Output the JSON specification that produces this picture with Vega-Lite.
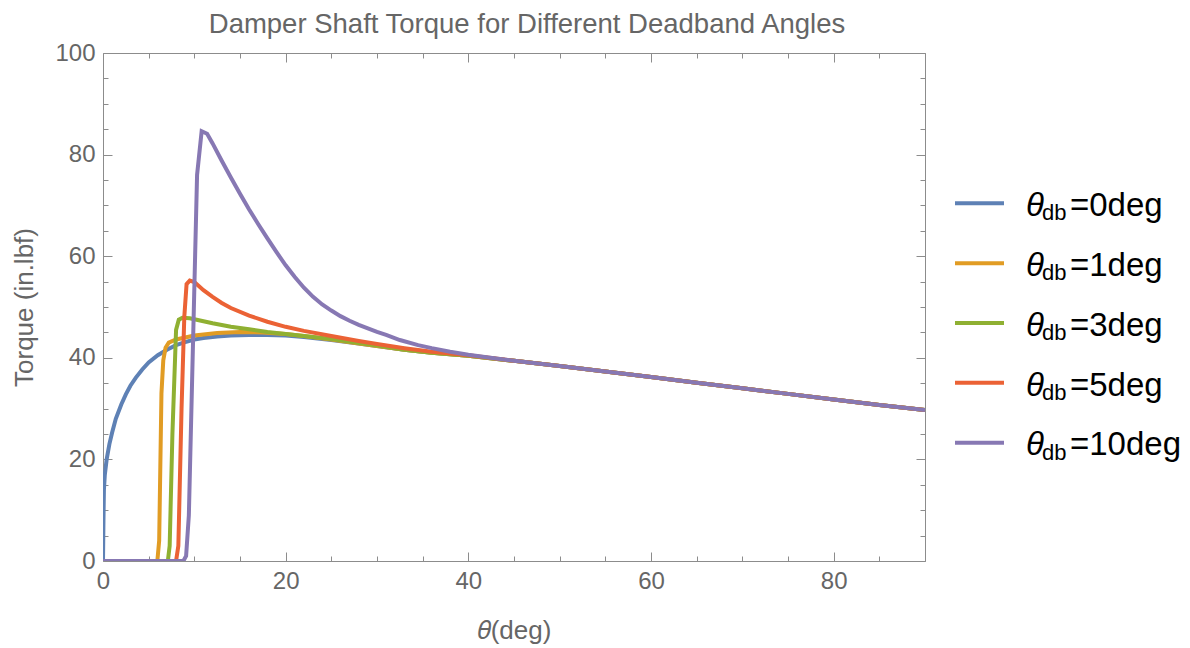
{
  "$schema": "https://vega.github.io/schema/vega-lite/v6.json",
  "background": "white",
  "padding": {"left": 11, "top": 10, "right": 0, "bottom": 5},
  "spacing": 20,
  "bounds": "flush",
  "config": {"font": "Liberation Sans"},
  "datasets": {
    "curves": [
      {"s": "0", "x": 0, "y": 0}, {"s": "0", "x": 0.05, "y": 8}, {"s": "0", "x": 0.1, "y": 14}, {"s": "0", "x": 0.2, "y": 17}, {"s": "0", "x": 0.4, "y": 20}, {"s": "0", "x": 0.7, "y": 23}, {"s": "0", "x": 1, "y": 25.3}, {"s": "0", "x": 1.4, "y": 28}, {"s": "0", "x": 2, "y": 30.8}, {"s": "0", "x": 2.5, "y": 32.8}, {"s": "0", "x": 3, "y": 34.5}, {"s": "0", "x": 3.6, "y": 36.1}, {"s": "0", "x": 4.3, "y": 37.7}, {"s": "0", "x": 5, "y": 39.1}, {"s": "0", "x": 6, "y": 40.5}, {"s": "0", "x": 7, "y": 41.6}, {"s": "0", "x": 8, "y": 42.5}, {"s": "0", "x": 9, "y": 43.1}, {"s": "0", "x": 10, "y": 43.6}, {"s": "0", "x": 11, "y": 43.9}, {"s": "0", "x": 12.5, "y": 44.2}, {"s": "0", "x": 14, "y": 44.4}, {"s": "0", "x": 16, "y": 44.5}, {"s": "0", "x": 18, "y": 44.5}, {"s": "0", "x": 20, "y": 44.4}, {"s": "0", "x": 22, "y": 44.1}, {"s": "0", "x": 25, "y": 43.5}, {"s": "0", "x": 28, "y": 42.8}, {"s": "0", "x": 30, "y": 42.3}, {"s": "0", "x": 33, "y": 41.6}, {"s": "0", "x": 36, "y": 41.0}, {"s": "0", "x": 40, "y": 40.4}, {"s": "0", "x": 45, "y": 39.4}, {"s": "0", "x": 50, "y": 38.4}, {"s": "0", "x": 55, "y": 37.3}, {"s": "0", "x": 60, "y": 36.2}, {"s": "0", "x": 65, "y": 35.1}, {"s": "0", "x": 70, "y": 34.0}, {"s": "0", "x": 75, "y": 32.9}, {"s": "0", "x": 80, "y": 31.8}, {"s": "0", "x": 85, "y": 30.7}, {"s": "0", "x": 90, "y": 29.7},

      {"s": "1", "x": 0, "y": 0}, {"s": "1", "x": 5.95, "y": 0}, {"s": "1", "x": 6.15, "y": 4}, {"s": "1", "x": 6.4, "y": 33}, {"s": "1", "x": 6.6, "y": 39.5}, {"s": "1", "x": 6.85, "y": 42}, {"s": "1", "x": 7.2, "y": 43}, {"s": "1", "x": 8, "y": 43.6}, {"s": "1", "x": 9, "y": 44}, {"s": "1", "x": 10, "y": 44.4}, {"s": "1", "x": 12.5, "y": 44.9}, {"s": "1", "x": 15, "y": 45.1}, {"s": "1", "x": 17.5, "y": 45}, {"s": "1", "x": 20, "y": 44.7}, {"s": "1", "x": 22, "y": 44.3}, {"s": "1", "x": 25, "y": 43.6}, {"s": "1", "x": 28, "y": 42.8}, {"s": "1", "x": 30, "y": 42.3}, {"s": "1", "x": 33, "y": 41.6}, {"s": "1", "x": 36, "y": 41.0}, {"s": "1", "x": 40, "y": 40.4}, {"s": "1", "x": 45, "y": 39.4}, {"s": "1", "x": 50, "y": 38.4}, {"s": "1", "x": 55, "y": 37.3}, {"s": "1", "x": 60, "y": 36.2}, {"s": "1", "x": 65, "y": 35.1}, {"s": "1", "x": 70, "y": 34.0}, {"s": "1", "x": 75, "y": 32.9}, {"s": "1", "x": 80, "y": 31.8}, {"s": "1", "x": 85, "y": 30.7}, {"s": "1", "x": 90, "y": 29.7},

      {"s": "3", "x": 0, "y": 0}, {"s": "3", "x": 7.1, "y": 0}, {"s": "3", "x": 7.3, "y": 3}, {"s": "3", "x": 7.6, "y": 25}, {"s": "3", "x": 8.0, "y": 45.5}, {"s": "3", "x": 8.3, "y": 47.5}, {"s": "3", "x": 8.7, "y": 47.9}, {"s": "3", "x": 9.5, "y": 47.8}, {"s": "3", "x": 10, "y": 47.6}, {"s": "3", "x": 12, "y": 46.8}, {"s": "3", "x": 14, "y": 46.1}, {"s": "3", "x": 16, "y": 45.6}, {"s": "3", "x": 18, "y": 45.1}, {"s": "3", "x": 20, "y": 44.7}, {"s": "3", "x": 22, "y": 44.3}, {"s": "3", "x": 25, "y": 43.7}, {"s": "3", "x": 28, "y": 42.9}, {"s": "3", "x": 30, "y": 42.4}, {"s": "3", "x": 33, "y": 41.6}, {"s": "3", "x": 36, "y": 41.0}, {"s": "3", "x": 40, "y": 40.4}, {"s": "3", "x": 45, "y": 39.4}, {"s": "3", "x": 50, "y": 38.4}, {"s": "3", "x": 55, "y": 37.3}, {"s": "3", "x": 60, "y": 36.2}, {"s": "3", "x": 65, "y": 35.1}, {"s": "3", "x": 70, "y": 34.0}, {"s": "3", "x": 75, "y": 32.9}, {"s": "3", "x": 80, "y": 31.8}, {"s": "3", "x": 85, "y": 30.7}, {"s": "3", "x": 90, "y": 29.7},

      {"s": "5", "x": 0, "y": 0}, {"s": "5", "x": 8.0, "y": 0}, {"s": "5", "x": 8.25, "y": 3}, {"s": "5", "x": 8.6, "y": 30}, {"s": "5", "x": 8.9, "y": 48}, {"s": "5", "x": 9.15, "y": 54.5}, {"s": "5", "x": 9.5, "y": 55.2}, {"s": "5", "x": 10, "y": 54.9}, {"s": "5", "x": 11, "y": 53.3}, {"s": "5", "x": 12, "y": 52}, {"s": "5", "x": 13, "y": 50.8}, {"s": "5", "x": 14, "y": 49.8}, {"s": "5", "x": 16, "y": 48.3}, {"s": "5", "x": 18, "y": 47.1}, {"s": "5", "x": 20, "y": 46.1}, {"s": "5", "x": 22, "y": 45.3}, {"s": "5", "x": 25, "y": 44.3}, {"s": "5", "x": 28, "y": 43.3}, {"s": "5", "x": 30, "y": 42.7}, {"s": "5", "x": 33, "y": 41.9}, {"s": "5", "x": 36, "y": 41.2}, {"s": "5", "x": 40, "y": 40.5}, {"s": "5", "x": 45, "y": 39.4}, {"s": "5", "x": 50, "y": 38.4}, {"s": "5", "x": 55, "y": 37.3}, {"s": "5", "x": 60, "y": 36.2}, {"s": "5", "x": 65, "y": 35.1}, {"s": "5", "x": 70, "y": 34.0}, {"s": "5", "x": 75, "y": 32.9}, {"s": "5", "x": 80, "y": 31.8}, {"s": "5", "x": 85, "y": 30.7}, {"s": "5", "x": 90, "y": 29.7},

      {"s": "10", "x": 0, "y": 0}, {"s": "10", "x": 8.8, "y": 0}, {"s": "10", "x": 9.1, "y": 1}, {"s": "10", "x": 9.4, "y": 9}, {"s": "10", "x": 10.3, "y": 76}, {"s": "10", "x": 10.8, "y": 84.6}, {"s": "10", "x": 11.4, "y": 84.1}, {"s": "10", "x": 12, "y": 82.2}, {"s": "10", "x": 13, "y": 78.8}, {"s": "10", "x": 14, "y": 75.5}, {"s": "10", "x": 15, "y": 72.3}, {"s": "10", "x": 16, "y": 69.2}, {"s": "10", "x": 17, "y": 66.3}, {"s": "10", "x": 18, "y": 63.5}, {"s": "10", "x": 19, "y": 60.8}, {"s": "10", "x": 20, "y": 58.2}, {"s": "10", "x": 21, "y": 55.9}, {"s": "10", "x": 22, "y": 53.8}, {"s": "10", "x": 23, "y": 52.0}, {"s": "10", "x": 24, "y": 50.5}, {"s": "10", "x": 25, "y": 49.3}, {"s": "10", "x": 26, "y": 48.2}, {"s": "10", "x": 27, "y": 47.3}, {"s": "10", "x": 28, "y": 46.5}, {"s": "10", "x": 29, "y": 45.8}, {"s": "10", "x": 30, "y": 45.1}, {"s": "10", "x": 31, "y": 44.5}, {"s": "10", "x": 32.5, "y": 43.5}, {"s": "10", "x": 34.5, "y": 42.5}, {"s": "10", "x": 36, "y": 41.9}, {"s": "10", "x": 38, "y": 41.2}, {"s": "10", "x": 40, "y": 40.6}, {"s": "10", "x": 42, "y": 40.1}, {"s": "10", "x": 45, "y": 39.4}, {"s": "10", "x": 50, "y": 38.4}, {"s": "10", "x": 55, "y": 37.3}, {"s": "10", "x": 60, "y": 36.2}, {"s": "10", "x": 65, "y": 35.1}, {"s": "10", "x": 70, "y": 34.0}, {"s": "10", "x": 75, "y": 32.9}, {"s": "10", "x": 80, "y": 31.8}, {"s": "10", "x": 85, "y": 30.7}, {"s": "10", "x": 90, "y": 29.7}
    ],
    "legend": [
      {"s": "0", "r": 0, "t": "=0deg"},
      {"s": "1", "r": 1, "t": "=1deg"},
      {"s": "3", "r": 2, "t": "=3deg"},
      {"s": "5", "r": 3, "t": "=5deg"},
      {"s": "10", "r": 4, "t": "=10deg"}
    ]
  },
  "hconcat": [
    {
      "width": 822,
      "height": 508,
      "view": {"stroke": "#8c8c8c", "strokeWidth": 1},
      "title": {"text": "Damper Shaft Torque for Different Deadband Angles", "fontSize": 27.5, "fontWeight": "normal", "color": "#666666", "font": "Liberation Sans", "anchor": "middle", "offset": 3, "dx": 13},
      "data": {"name": "curves"},
      "layer": [
        {
          "mark": {"type": "line", "strokeWidth": 4, "clip": true},
          "encoding": {
            "x": {"field": "x", "type": "quantitative", "scale": {"domain": [0, 90], "nice": false, "zero": false},
              "axis": {"orient": "bottom", "values": [0,5,10,15,20,25,30,35,40,45,50,55,60,65,70,75,80,85,90],
                "labelExpr": "datum.value % 20 === 0 ? datum.label : ''", "labelFlush": false, "labelOverlap": false,
                "tickSize": {"condition": {"test": "datum.value % 20 === 0", "value": -9}, "value": -5},
                "tickColor": "#8c8c8c", "domain": false, "grid": false,
                "labelFontSize": 24, "labelColor": "#666666", "labelPadding": 17,
                "title": "𝜃(deg)", "titleFontSize": 26, "titleFontWeight": "normal", "titleColor": "#666666", "titlePadding": 20}},
            "y": {"field": "y", "type": "quantitative", "scale": {"domain": [0, 100], "nice": false},
              "axis": {"orient": "left", "values": [0,5,10,15,20,25,30,35,40,45,50,55,60,65,70,75,80,85,90,95,100],
                "labelExpr": "datum.value % 20 === 0 ? datum.label : ''", "labelFlush": false, "labelOverlap": false,
                "tickSize": {"condition": {"test": "datum.value % 20 === 0", "value": -9}, "value": -5},
                "tickColor": "#8c8c8c", "domain": false, "grid": false,
                "labelFontSize": 24, "labelColor": "#666666", "labelPadding": 17,
                "title": "Torque (in.lbf)", "titleFontSize": 26, "titleFontWeight": "normal", "titleColor": "#666666", "titlePadding": 17}},
            "color": {"field": "s", "type": "nominal",
              "scale": {"domain": ["0", "1", "3", "5", "10"], "range": ["#5E81B5", "#E19C24", "#8FB032", "#EB6235", "#8778B3"]},
              "legend": null}
          }
        },
        {
          "mark": {"type": "point", "opacity": 0},
          "encoding": {
            "x": {"field": "x", "type": "quantitative", "scale": {"domain": [0, 90], "nice": false, "zero": false},
              "axis": {"orient": "top", "values": [0,5,10,15,20,25,30,35,40,45,50,55,60,65,70,75,80,85,90],
                "labels": false, "title": null, "domain": false, "grid": false, "tickColor": "#8c8c8c",
                "tickSize": {"condition": {"test": "datum.value % 20 === 0", "value": -9}, "value": -5}}},
            "y": {"field": "y", "type": "quantitative", "scale": {"domain": [0, 100], "nice": false},
              "axis": {"orient": "right", "values": [0,5,10,15,20,25,30,35,40,45,50,55,60,65,70,75,80,85,90,95,100],
                "labels": false, "title": null, "domain": false, "grid": false, "tickColor": "#8c8c8c",
                "tickSize": {"condition": {"test": "datum.value % 20 === 0", "value": -9}, "value": -5}}}
          }
        }
      ],
      "resolve": {"axis": {"x": "independent", "y": "independent"}}
    },
    {
      "width": 246,
      "height": 508,
      "view": {"stroke": null},
      "data": {"name": "legend"},
      "encoding": {
        "y": {"field": "r", "type": "quantitative", "scale": {"domain": [-2.511, 5.977], "reverse": true, "nice": false, "zero": false}, "axis": null}
      },
      "layer": [
        {
          "mark": {"type": "rule", "strokeWidth": 4},
          "encoding": {
            "x": {"datum": 10, "type": "quantitative", "scale": {"domain": [0, 246], "nice": false, "zero": false}, "axis": null},
            "x2": {"datum": 59},
            "color": {"field": "s", "type": "nominal", "scale": {"domain": ["0", "1", "3", "5", "10"], "range": ["#5E81B5", "#E19C24", "#8FB032", "#EB6235", "#8778B3"]}, "legend": null}
          }
        },
        {
          "mark": {"type": "text", "text": "θ", "fontStyle": "italic", "fontSize": 33, "align": "left", "baseline": "alphabetic", "dy": 12.7, "color": "black", "font": "Liberation Sans"},
          "encoding": {"x": {"datum": 81, "type": "quantitative"}}
        },
        {
          "mark": {"type": "text", "text": "db", "fontSize": 22, "align": "left", "baseline": "alphabetic", "dy": 17, "color": "black", "font": "Liberation Sans"},
          "encoding": {"x": {"datum": 97, "type": "quantitative"}}
        },
        {
          "mark": {"type": "text", "fontSize": 33, "align": "left", "baseline": "alphabetic", "dy": 12.7, "color": "black", "font": "Liberation Sans"},
          "encoding": {"x": {"datum": 125, "type": "quantitative"}, "text": {"field": "t"}}
        }
      ]
    }
  ]
}
